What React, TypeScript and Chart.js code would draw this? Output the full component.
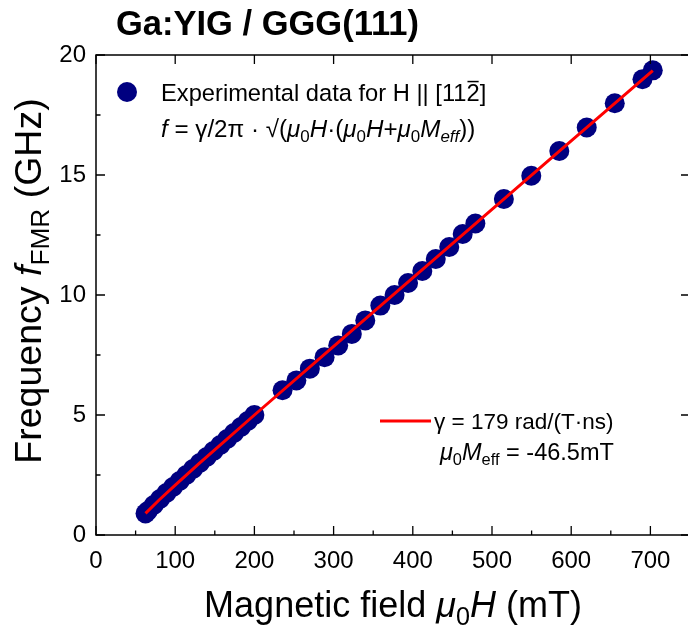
import React, { useEffect, useRef } from "react";
import { Chart, registerables } from "chart.js";
Chart.register(...registerables);

const fieldH = [62.5, 65.4, 72.9, 80.8, 88.9, 97.2, 105.6, 114, 122.5, 131, 139.7, 148.3, 157, 165.6, 174.2, 183, 191.6, 200,
  235.5, 253, 270, 288.6, 305.8, 323, 340, 359, 377, 394, 412, 429, 446, 463, 479, 515, 549.6, 585, 619.6, 655, 690, 703];
const freqF = [0.9, 1.0, 1.25, 1.5, 1.75, 2.0, 2.25, 2.5, 2.75, 3.0, 3.25, 3.5, 3.75, 4.0, 4.25, 4.5, 4.75, 5.0,
  6.03, 6.44, 6.93, 7.41, 7.9, 8.38, 8.94, 9.56, 10.0, 10.5, 11.0, 11.5, 12.0, 12.54, 12.98, 14.0, 14.97, 16.0, 16.98, 17.99, 18.99, 19.36];

// Fit curve
const fitH = [62.5, 80, 100, 130, 165, 200, 300, 400, 500, 600, 703];
const fitF = [0.9, 1.47, 2.08, 2.97, 3.98, 5.0, 7.86, 10.71, 13.57, 16.42, 19.35];

const xMajorTicks = [0, 100, 200, 300, 400, 500, 600, 700];
const xMinorTicks = [50, 150, 250, 350, 450, 550, 650];
const yMajorTicks = [0, 5, 10, 15, 20];
const yMinorTicks = [2.5, 7.5, 12.5, 17.5];

const FAM = '"Liberation Sans", Arial, sans-serif';

type Seg = { t: string; it?: boolean; sub?: boolean; bold?: boolean; over?: boolean };

function fnt(size: number, it?: boolean, bold?: boolean) {
  return `${it ? "italic " : ""}${bold ? "bold " : ""}${size}px ${FAM}`;
}
function richWidth(ctx: CanvasRenderingContext2D, segs: Seg[], size: number) {
  let w = 0;
  for (const s of segs) {
    ctx.font = fnt(s.sub ? size * 0.7 : size, s.it, s.bold);
    w += ctx.measureText(s.t).width;
  }
  return w;
}
function drawRich(ctx: CanvasRenderingContext2D, x: number, y: number, segs: Seg[], size: number, align: "left" | "center" = "left") {
  const w = richWidth(ctx, segs, size);
  let cx = align === "center" ? x - w / 2 : x;
  ctx.textAlign = "left";
  ctx.textBaseline = "alphabetic";
  ctx.fillStyle = "#000";
  for (const s of segs) {
    const sz = s.sub ? size * 0.7 : size;
    ctx.font = fnt(sz, s.it, s.bold);
    const dy = s.sub ? size * 0.22 : 0;
    ctx.fillText(s.t, cx, y + dy);
    const sw = ctx.measureText(s.t).width;
    if (s.over) {
      ctx.save();
      ctx.strokeStyle = "#000";
      ctx.lineWidth = 1.5;
      ctx.beginPath();
      ctx.moveTo(cx + 1, y - size * 0.82);
      ctx.lineTo(cx + sw - 1, y - size * 0.82);
      ctx.stroke();
      ctx.restore();
    }
    cx += sw;
  }
}

const titleSegs: Seg[] = [{ t: "Ga:YIG / GGG(111)", bold: true }];
const leg1: Seg[] = [{ t: "Experimental data for H || [11" }, { t: "2", over: true }, { t: "]" }];
const leg2: Seg[] = [
  { t: "f", it: true }, { t: " = γ/2π · √(" }, { t: "μ", it: true }, { t: "0", sub: true }, { t: "H", it: true },
  { t: "·(" }, { t: "μ", it: true }, { t: "0", sub: true }, { t: "H", it: true }, { t: "+" },
  { t: "μ", it: true }, { t: "0", sub: true }, { t: "M", it: true }, { t: "eff", it: true, sub: true }, { t: "))" },
];
const fit1: Seg[] = [{ t: "γ = 179 rad/(T·ns)" }];
const fit2: Seg[] = [{ t: "μ", it: true }, { t: "0", sub: true }, { t: "M", it: true }, { t: "eff", sub: true }, { t: " = -46.5mT" }];
const xTitle: Seg[] = [{ t: "Magnetic field " }, { t: "μ", it: true }, { t: "0", sub: true }, { t: "H", it: true }, { t: " (mT)" }];
const yTitle: Seg[] = [{ t: "Frequency " }, { t: "f", it: true }, { t: "FMR", sub: true }, { t: " (GHz)" }];

const decor = {
  id: "decor",
  afterDraw(chart: any) {
    const ctx: CanvasRenderingContext2D = chart.ctx;
    const { left, right, top, bottom } = chart.chartArea;
    const xs = chart.scales.x;
    const ys = chart.scales.y;
    ctx.save();
    ctx.strokeStyle = "#000";
    ctx.lineWidth = 1.5;
    ctx.strokeRect(left, top, right - left, bottom - top);
    ctx.lineWidth = 1.3;
    ctx.beginPath();
    for (const v of xMajorTicks) {
      const px = xs.getPixelForValue(v);
      ctx.moveTo(px, bottom); ctx.lineTo(px, bottom - 9);
      ctx.moveTo(px, top); ctx.lineTo(px, top + 9);
    }
    for (const v of xMinorTicks) {
      const px = xs.getPixelForValue(v);
      ctx.moveTo(px, bottom); ctx.lineTo(px, bottom - 4.5);
    }
    for (const v of yMajorTicks) {
      const py = ys.getPixelForValue(v);
      ctx.moveTo(left, py); ctx.lineTo(left + 9, py);
      ctx.moveTo(right, py); ctx.lineTo(right - 9, py);
    }
    for (const v of yMinorTicks) {
      const py = ys.getPixelForValue(v);
      ctx.moveTo(left, py); ctx.lineTo(left + 4.5, py);
    }
    ctx.stroke();

    // title
    drawRich(ctx, 116, 35, titleSegs, 34.5);
    // legend 1
    ctx.fillStyle = "#000080";
    ctx.beginPath();
    ctx.arc(127, 92, 10, 0, Math.PI * 2);
    ctx.fill();
    drawRich(ctx, 161, 101, leg1, 23.7);
    drawRich(ctx, 161, 137, leg2, 24.2);
    // legend 2
    ctx.strokeStyle = "#ff0000";
    ctx.lineWidth = 3;
    ctx.beginPath();
    ctx.moveTo(380, 421); ctx.lineTo(431, 421);
    ctx.stroke();
    drawRich(ctx, 434, 429, fit1, 22.5);
    drawRich(ctx, 440, 460, fit2, 23.5);
    // axis titles
    drawRich(ctx, (left + right) / 2, 617, xTitle, 36, "center");
    ctx.save();
    ctx.translate(41, 281);
    ctx.rotate(-Math.PI / 2);
    drawRich(ctx, 0, 0, yTitle, 37.5, "center");
    ctx.restore();
    ctx.restore();
  },
};

export default function App() {
  const ref = useRef<HTMLCanvasElement>(null);
  useEffect(() => {
    if (!ref.current) return;
    const chart = new Chart(ref.current, {
      type: "scatter",
      data: {
        datasets: [
          {
            label: "fit",
            data: fitH.map((h, i) => ({ x: h, y: fitF[i] })),
            showLine: true,
            borderColor: "#ff0000",
            borderWidth: 3,
            pointRadius: 0,
            fill: false,
            order: 0,
          } as any,
          {
            label: "data",
            data: fieldH.map((h, i) => ({ x: h, y: freqF[i] })),
            pointRadius: 10,
            pointBackgroundColor: "#000080",
            pointBorderWidth: 0,
            backgroundColor: "#000080",
            borderColor: "#000080",
            order: 1,
          } as any,
        ],
      },
      options: {
        responsive: false,
        maintainAspectRatio: false,
        animation: false,
        layout: { padding: { top: 55, right: 7, left: 0, bottom: 0 } },
        plugins: { legend: { display: false }, tooltip: { enabled: false }, title: { display: false } },
        scales: {
          x: {
            type: "linear",
            min: 0,
            max: 750,
            afterBuildTicks: (s: any) => {
              s.ticks = xMajorTicks.map((v) => ({ value: v }));
            },
            ticks: { font: { size: 24, family: FAM }, color: "#000", padding: 12, maxRotation: 0, autoSkip: false },
            grid: { display: false, drawTicks: false },
            border: { display: false },
            afterFit: (s: any) => { s.height = 95; },
          },
          y: {
            type: "linear",
            min: 0,
            max: 20,
            afterBuildTicks: (s: any) => {
              s.ticks = yMajorTicks.map((v) => ({ value: v }));
            },
            ticks: { font: { size: 24, family: FAM }, color: "#000", padding: 10, autoSkip: false },
            grid: { display: false, drawTicks: false },
            border: { display: false },
            afterFit: (s: any) => { s.width = 96; },
          },
        },
      } as any,
      plugins: [decor],
    });
    return () => chart.destroy();
  }, []);
  return (
    <div style={{ position: "fixed", left: 0, top: 0, width: 688, height: 630, overflow: "hidden", background: "#fff" }}>
      <canvas ref={ref} width={700} height={630} style={{ display: "block" }} />
    </div>
  );
}
